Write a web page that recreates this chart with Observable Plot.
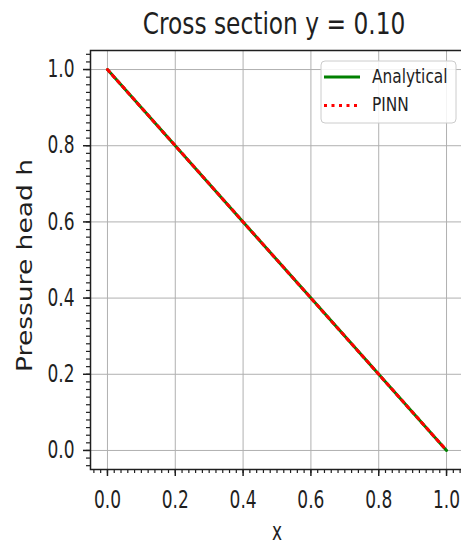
<!DOCTYPE html>
<html><head><meta charset="utf-8">
<script src="https://cdn.jsdelivr.net/npm/d3@7"></script>
<script src="https://cdn.jsdelivr.net/npm/@observablehq/plot@0.6"></script>
<style>
html,body{margin:0;padding:0;background:#fff;overflow:hidden;}
#chart{width:461px;height:547px;overflow:hidden;position:relative;}
</style></head><body><div id="chart"></div>
<script>
const titleText = "Cross section y = 0.10";
const xLabel = "x";
const yLabel = "Pressure head h";
const xValues = [0, 0.2, 0.4, 0.6, 0.8, 1.0];
const analytical = [1.0, 0.8, 0.6, 0.4, 0.2, 0.0];
const pinn = [1.0, 0.8, 0.6, 0.4, 0.2, 0.0];
const seriesNames = ["Analytical", "PINN"];
const seriesColors = ["#008000", "#ff0000"];
const xTicks = [0, 0.2, 0.4, 0.6, 0.8, 1.0];
const yTicks = [0, 0.2, 0.4, 0.6, 0.8, 1.0];
const xTickLabels = ["0.0", "0.2", "0.4", "0.6", "0.8", "1.0"];
const yTickLabels = ["0.0", "0.2", "0.4", "0.6", "0.8", "1.0"];
const minorTicks = d3.range(-2, 53).map(i => i / 50);

const rows = xValues.map((x, i) => ({x, analytical: analytical[i], pinn: pinn[i]}));
const ink = "#1f1f1f";

const plot = Plot.plot({
  width: 461, height: 547,
  marginLeft: 90, marginRight: -2, marginTop: 50, marginBottom: 78,
  style: {fontFamily: "DejaVu Sans", background: "white", color: ink, overflow: "hidden"},
  x: {domain: [-0.05, 1.05]},
  y: {domain: [-0.05, 1.05]},
  marks: [
    Plot.gridX(xTicks, {stroke: "#b0b0b0", strokeOpacity: 1, strokeWidth: 1}),
    Plot.gridY(yTicks, {stroke: "#b0b0b0", strokeOpacity: 1, strokeWidth: 1}),
    Plot.line(rows, {x: "x", y: "analytical", stroke: seriesColors[0], strokeWidth: 3}),
    Plot.line(rows, {x: "x", y: "pinn", stroke: seriesColors[1], strokeWidth: 3, strokeDasharray: "3,4.5"}),
    Plot.frame({stroke: ink, strokeWidth: 1.5}),
    Plot.axisY(minorTicks, {tickSize: 4, fill: "none", label: null, stroke: ink, strokeWidth: 1.2}),
    Plot.axisX(minorTicks, {tickSize: 4, fill: "none", label: null, stroke: ink, strokeWidth: 1.2}),
    Plot.axisY(yTicks, {tickSize: 7, tickPadding: 9, tickFormat: d => yTickLabels[yTicks.indexOf(d)], fontSize: 24, label: null, stroke: ink, fill: ink, strokeWidth: 1.5}),
    Plot.axisX(xTicks, {tickSize: 7, tickPadding: 14, tickFormat: d => xTickLabels[xTicks.indexOf(d)], fontSize: 24, label: null, stroke: ink, fill: ink, strokeWidth: 1.5}),
    Plot.text([titleText], {text: d => d, frameAnchor: "top", textAnchor: "middle", dy: -17, dx: -3, lineAnchor: "bottom", fontSize: 29.5, fill: ink}),
    Plot.text([xLabel], {text: d => d, frameAnchor: "bottom", textAnchor: "middle", dy: 53, dx: 0, lineAnchor: "top", fontSize: 25, fill: ink}),
    Plot.text([yLabel], {text: d => d, frameAnchor: "left", textAnchor: "middle", dx: -65, dy: 5.5, rotate: -90, fontSize: 26.5, fill: ink})
  ]
});
document.getElementById("chart").appendChild(plot);

const svg = d3.select(plot);
function squeeze(el, k) {
  const tr = el.getAttribute("transform");
  if (tr) {
    el.setAttribute("transform", tr + ` scale(${k},1)`);
  } else {
    const L = el.getComputedTextLength();
    el.setAttribute("textLength", L * k);
    el.setAttribute("lengthAdjust", "spacingAndGlyphs");
  }
}
svg.selectAll("text").each(function() {
  const t = this.textContent;
  if (t === yLabel) {
    const tr = this.getAttribute("transform") || "";
    this.setAttribute("transform", tr + " scale(1,0.82)");
  } else if (t === titleText) {
    squeeze(this, 0.79);
  } else if (t === xLabel) {
    squeeze(this, 0.68);
  } else if (t) {
    squeeze(this, 0.71);
  }
});

// legend box
const lg = svg.append("g").attr("font-family", "DejaVu Sans");
lg.append("rect").attr("x", 321).attr("y", 61).attr("width", 135).attr("height", 62)
  .attr("rx", 4).attr("fill", "white").attr("fill-opacity", 0.85).attr("stroke", "#cccccc");
seriesNames.forEach((name, i) => {
  const cy = 77 + i * 28.5;
  const ln = lg.append("line").attr("x1", 324).attr("x2", 360).attr("y1", cy).attr("y2", cy)
    .attr("stroke", seriesColors[i]).attr("stroke-width", 3);
  if (i === 1) ln.attr("stroke-dasharray", "3,4.5");
  const tx = lg.append("text").attr("transform", `translate(372,${cy + 5.5})`)
    .attr("text-anchor", "start").attr("font-size", 20)
    .attr("fill", ink).text(name);
  squeeze(tx.node(), 0.77);
});
</script></body></html>
